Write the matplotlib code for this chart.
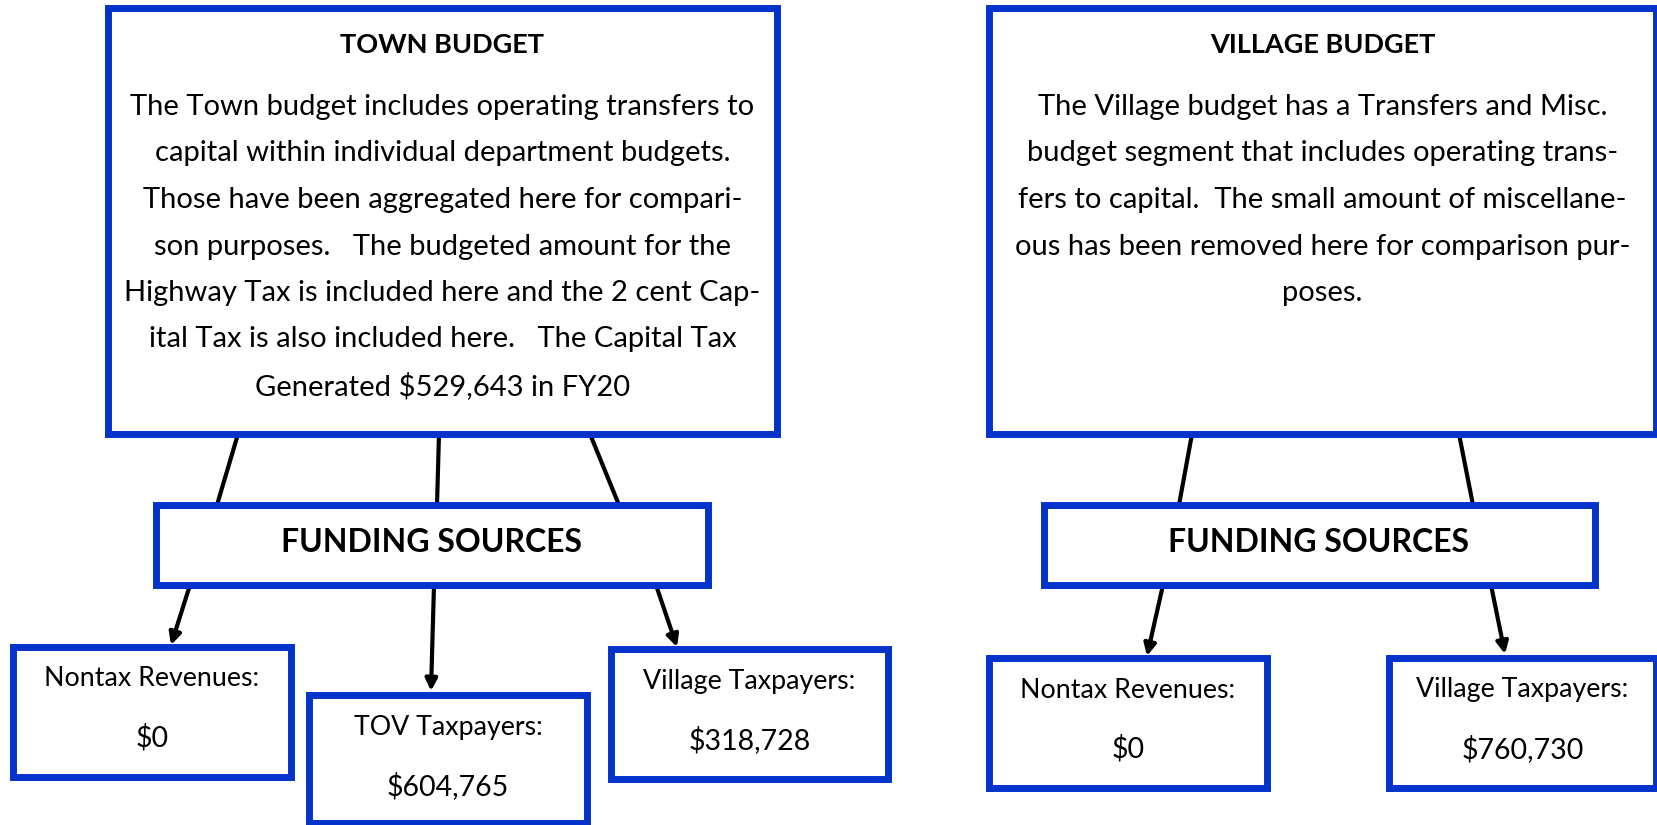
import matplotlib.pyplot as plt
from matplotlib.patches import Rectangle

plt.rcParams['font.family'] = ['Lato', 'DejaVu Sans']

BLUE = '#0433CC'

town_title = 'TOWN BUDGET'
town_lines = [
    'The Town budget includes operating transfers to',
    'capital within individual department budgets.',
    'Those have been aggregated here for compari-',
    'son purposes.   The budgeted amount for the',
    'Highway Tax is included here and the 2 cent Cap-',
    'ital Tax is also included here.   The Capital Tax',
    'Generated $529,643 in FY20',
]
village_title = 'VILLAGE BUDGET'
village_lines = [
    'The Village budget has a Transfers and Misc.',
    'budget segment that includes operating trans-',
    'fers to capital.  The small amount of miscellane-',
    'ous has been removed here for comparison pur-',
    'poses.',
]
town_sources = ['Nontax Revenues:', 'TOV Taxpayers:', 'Village Taxpayers:']
town_amounts = ['$0', '$604,765', '$318,728']
village_sources = ['Nontax Revenues:', 'Village Taxpayers:']
village_amounts = ['$0', '$760,730']

fig = plt.figure(figsize=(16.58, 8.25), dpi=100)
ax = fig.add_axes([0, 0, 1, 1])
ax.set_xlim(0, 1658)
ax.set_ylim(825, 0)
ax.axis('off')


def box(x0, y0, x1, y1):
    ax.add_patch(Rectangle((x0, y0), x1 - x0, y1 - y0, facecolor='white',
                           edgecolor=BLUE, linewidth=5, zorder=3))


def link(p0, p1, arrow=False):
    if arrow:
        ax.annotate('', xy=p1, xytext=p0, zorder=2,
                    arrowprops=dict(arrowstyle='-|>,head_length=0.7,head_width=0.35',
                                    color='black', lw=3, shrinkA=0, shrinkB=0))
    else:
        ax.plot([p0[0], p1[0]], [p0[1], p1[1]], color='black', lw=3,
                solid_capstyle='butt', zorder=2)


def panel(x0, x1, title, lines):
    box(x0, 8, x1, 434)
    cx = (x0 + x1) / 2
    ax.text(cx, 45, title, ha='center', va='center', fontsize=19.5,
            fontweight='bold', zorder=4)
    for i, ln in enumerate(lines):
        ax.text(cx, 107 + i * 46.5, ln, ha='center', va='center',
                fontsize=21, zorder=4)


def source_box(x0, y0, x1, y1, label, amount):
    box(x0, y0, x1, y1)
    cx = (x0 + x1) / 2
    ax.text(cx, y0 + 32, label, ha='center', va='center', fontsize=19.3, zorder=4)
    ax.text(cx, y0 + 91, amount, ha='center', va='center', fontsize=20.5, zorder=4)


# left panel
panel(108, 777, town_title, town_lines)
box(156, 505, 708, 585)
ax.text(432, 542, 'FUNDING SOURCES', ha='center', va='center', fontsize=23,
        fontweight='bold', zorder=4)
link((238, 434), (217, 505))
link((439, 434), (437, 505))
link((590, 434), (619, 505))
link((190, 585), (171, 645), arrow=True)
link((434, 585), (431, 691), arrow=True)
link((656, 585), (677, 647), arrow=True)
source_box(13, 647, 291, 777, town_sources[0], town_amounts[0])
source_box(309, 695, 587, 823, town_sources[1], town_amounts[1])
source_box(611, 649, 888, 779, town_sources[2], town_amounts[2])

# right panel
panel(989, 1656, village_title, village_lines)
box(1044, 505, 1595, 585)
ax.text(1319, 542, 'FUNDING SOURCES', ha='center', va='center', fontsize=23,
        fontweight='bold', zorder=4)
link((1192, 434), (1179, 505))
link((1459, 434), (1473, 505))
link((1163, 585), (1147, 656), arrow=True)
link((1491, 585), (1505, 654), arrow=True)
source_box(989, 658, 1267, 788, village_sources[0], village_amounts[0])
source_box(1389, 658, 1656, 788, village_sources[1], village_amounts[1])

fig.savefig('out.png', dpi=100, facecolor='white')
